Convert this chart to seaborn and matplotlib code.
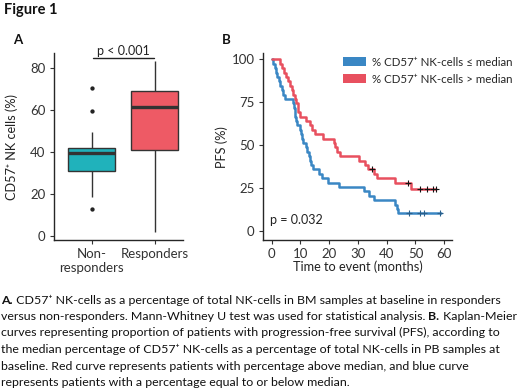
import numpy as np
import pandas as pd
import matplotlib
matplotlib.use("Agg")
import matplotlib.pyplot as plt
import seaborn as sns
from matplotlib.patches import Patch

# ---------------- data ----------------
groups = ["Non-\nresponders", "Responders"]
nonresp_values = [12.8, 18.4, 25.0, 31.1, 34.0, 37.0, 39.4, 40.5, 41.2, 41.9, 49.4, 59.6, 70.6]
resp_values = [1.6, 25.0, 41.0, 52.0, 61.5, 65.0, 69.2, 76.0, 83.6]
box_colors = ["#20B2BB", "#EE5A65"]

blue_t = [0, 0.5, 1.0, 1.5, 2.0, 2.5, 3.0, 3.5, 4.0, 4.5, 7.5, 7.8, 8.0, 8.2, 8.5, 8.8,
          10.0, 10.3, 10.7, 11.0, 12.0, 12.4, 12.8, 13.2, 13.6, 14.2, 16.5, 17.5, 19.5,
          23.5, 32.0, 34.0, 35.5, 43.0, 43.5, 44.0, 59.0]
blue_s = [100, 97.4, 94.9, 92.3, 89.7, 87.2, 84.6, 82.1, 79.5, 76.9, 74.4, 71.8, 69.2, 66.7,
          64.1, 61.5, 59.0, 56.4, 53.8, 51.3, 48.7, 46.2, 43.6, 41.0, 38.5, 35.9, 33.3, 30.8,
          28.2, 25.6, 23.1, 20.5, 17.9, 15.4, 12.8, 10.3, 10.3]
blue_cens_t = [47.8, 51.5, 52.9, 58.5]
blue_cens_s = [10.3, 10.3, 10.3, 10.3]

red_t = [0, 2.8, 3.5, 4.2, 4.9, 5.6, 6.3, 7.0, 7.5, 8.0, 8.5, 9.0, 9.3, 9.7, 12.0, 13.3,
         14.0, 15.0, 18.0, 21.5, 22.0, 22.8, 23.7, 30.5, 32.5, 33.5, 35.5, 36.5, 43.0, 48.5, 57.0]
red_s = [100, 97.4, 94.9, 92.3, 89.7, 87.2, 84.6, 82.1, 79.5, 76.9, 74.4, 71.8, 69.2, 66.7,
         64.1, 61.5, 59.0, 56.4, 53.8, 51.3, 48.7, 46.2, 43.6, 41.0, 38.5, 35.9, 33.3, 30.8,
         27.8, 24.3, 24.3]
red_cens_t = [34.8, 47.5, 51.7, 54.0, 56.0, 57.0]
red_cens_s = [35.9, 27.8, 24.3, 24.3, 24.3, 24.3]

km_colors = ["#3A87C4", "#E8505F"]
km_labels = ["% CD57\u207a NK-cells \u2264 median", "% CD57\u207a NK-cells > median"]

caption = [
    [("A.", "bold"), (" CD57\u207a NK-cells as a percentage of total NK-cells in BM samples at baseline in responders", "normal")],
    [("versus non-responders. Mann-Whitney U test was used for statistical analysis.", "normal"), (" B.", "bold"), (" Kaplan-Meier", "normal")],
    [("curves representing proportion of patients with progression-free survival (PFS), according to", "normal")],
    [("the median percentage of CD57\u207a NK-cells as a percentage of total NK-cells in PB samples at", "normal")],
    [("baseline. Red curve represents patients with percentage above median, and blue curve", "normal")],
    [("represents patients with a percentage equal to or below median.", "normal")],
]

# ---------------- style ----------------
sns.set_theme(style="ticks")
plt.rcParams["font.family"] = ["Lato", "DejaVu Sans"]
plt.rcParams["axes.linewidth"] = 1.0
plt.rcParams["xtick.major.size"] = 3
plt.rcParams["ytick.major.size"] = 3
plt.rcParams["xtick.major.width"] = 0.8
plt.rcParams["ytick.major.width"] = 0.8
plt.rcParams["xtick.color"] = "#333333"
plt.rcParams["ytick.color"] = "#333333"
plt.rcParams["xtick.labelcolor"] = "#333333"
plt.rcParams["ytick.labelcolor"] = "#333333"

W, H = 520, 390
fig = plt.figure(figsize=(W / 100, H / 100), dpi=100)


def fx(px):
    return px / W


def fy(py):
    return 1 - py / H


# ---------------- panel A ----------------
axA = fig.add_axes([fx(54), fy(240), fx(183) - fx(54), fy(53) - fy(240)])
dfA = pd.DataFrame({
    "group": [groups[0]] * len(nonresp_values) + [groups[1]] * len(resp_values),
    "value": nonresp_values + resp_values,
})
sns.boxplot(data=dfA, x="group", y="value", hue="group", order=groups, hue_order=groups,
            palette=box_colors, width=0.75, linecolor="#333333", linewidth=1.0,
            saturation=1, legend=False, ax=axA, showcaps=False,
            medianprops={"linewidth": 2.4, "color": "#333333"},
            flierprops={"marker": "o", "markersize": 2.1, "markerfacecolor": "#222222",
                        "markeredgecolor": "#222222"})
axA.set_xlim(-0.598, 1.449)
axA.set_ylim(-2.05, 87.3)
axA.set_yticks([0, 20, 40, 60, 80])
axA.set_xlabel("")
axA.set_ylabel("CD57\u207a NK cells (%)", fontsize=9.2, color="#222222")
axA.yaxis.set_label_coords(-0.28, 0.5)
axA.tick_params(labelsize=9.5, pad=3)
sns.despine(ax=axA)
axA.plot([0.02, 0.99], [85.1, 85.1], color="#222222", lw=1.0, clip_on=False)
axA.text(0.51, 86.5, "p < 0.001", ha="center", va="baseline", fontsize=9, color="#222222")

# ---------------- panel B ----------------
axB = fig.add_axes([fx(262.7), fy(240), fx(451.7) - fx(262.7), fy(53.3) - fy(240)])
sns.lineplot(x=blue_t, y=blue_s, drawstyle="steps-post", estimator=None, color=km_colors[0],
             lw=1.8, ax=axB)
sns.lineplot(x=red_t, y=red_s, drawstyle="steps-post", estimator=None, color=km_colors[1],
             lw=1.8, ax=axB)
sns.scatterplot(x=blue_cens_t, y=blue_cens_s, marker="+", s=14, color="#2a5f8a",
                linewidth=0.8, ax=axB, zorder=5)
sns.scatterplot(x=red_cens_t, y=red_cens_s, marker="+", s=14, color="#111111",
                linewidth=0.8, ax=axB, zorder=5)
axB.set_xlim(-3.13, 62.6)
axB.set_ylim(-5.2, 103.5)
axB.set_xticks([0, 10, 20, 30, 40, 50, 60])
axB.set_yticks([0, 25, 50, 75, 100])
axB.tick_params(labelsize=9.5, pad=3)
axB.set_xlabel("Time to event (months)", fontsize=9.2, color="#222222")
axB.set_ylabel("PFS (%)", fontsize=9.2, color="#222222")
axB.xaxis.set_label_coords(0.504, -0.107)
axB.yaxis.set_label_coords(-0.184, 0.5)
sns.despine(ax=axB)
axB.text(-0.6, 4.0, "p = 0.032", ha="left", va="baseline", fontsize=9, color="#222222")
handles = [Patch(facecolor=c, edgecolor="none") for c in km_colors]
axB.legend(handles, km_labels, loc="upper left",
           bbox_to_anchor=(fx(343), fy(56.5)), bbox_transform=fig.transFigure,
           frameon=False, fontsize=8.3, handlelength=2.0, handleheight=0.85,
           handletextpad=0.5, labelspacing=0.55, borderpad=0, borderaxespad=0)

# ---------------- texts ----------------
fig.text(fx(4), fy(10), "Figure 1", fontsize=10.5, fontweight="bold", va="center", ha="left",
         color="#111111")
fig.text(fx(13), fy(40), "A", fontsize=9.5, fontweight="bold", va="center", ha="left", color="#111111")
fig.text(fx(222), fy(40), "B", fontsize=9.5, fontweight="bold", va="center", ha="left", color="#111111")

fig.canvas.draw()
renderer = fig.canvas.get_renderer()

# fit caption font so that line 2 spans the full width
base = 8.0
tmp = [fig.text(0, 0, s, fontsize=base, fontweight=w) for s, w in caption[1]]
total = sum(t.get_window_extent(renderer).width for t in tmp)
for t in tmp:
    t.remove()
cap_size = base * 516.0 / total

baselines = [303.5, 320, 336.5, 353, 369.5, 386]
for segs, yb in zip(caption, baselines):
    x = 1.0
    for s, w in segs:
        t = fig.text(fx(x), fy(yb), s, fontsize=cap_size, fontweight=w, va="baseline",
                     ha="left", color="#111111")
        x += t.get_window_extent(renderer).width

fig.savefig("out.png", dpi=100)
